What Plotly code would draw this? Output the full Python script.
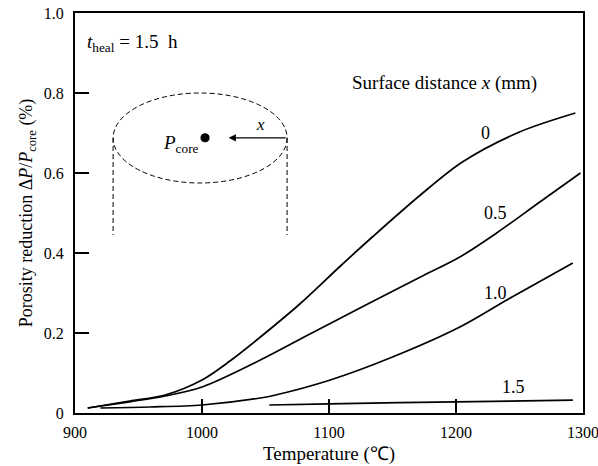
import plotly.graph_objects as go

# Data (temperature in degC, porosity reduction in %)
temp_x0 = [910, 943, 971, 1000, 1022, 1046, 1077, 1109, 1135, 1172, 1205, 1250, 1294]
red_x0 = [0.0125, 0.03, 0.045, 0.0825, 0.13, 0.19, 0.2725, 0.3675, 0.4425, 0.545, 0.6275, 0.7025, 0.75]

temp_x05 = [910, 943, 971, 1000, 1046, 1085, 1124, 1172, 1203, 1232, 1266, 1298]
red_x05 = [0.0125, 0.028, 0.0425, 0.065, 0.1325, 0.1975, 0.262, 0.34, 0.39, 0.45, 0.5275, 0.60]

temp_x10 = [920, 959, 1000, 1046, 1058, 1101, 1150, 1203, 1240, 1292]
red_x10 = [0.0125, 0.015, 0.02, 0.0375, 0.045, 0.0825, 0.14, 0.215, 0.2825, 0.375]

temp_x15 = [1053, 1100, 1200, 1292]
red_x15 = [0.02, 0.023, 0.028, 0.032]

series_labels = ["0", "0.5", "1.0", "1.5"]
x_ticks = [900, 1000, 1100, 1200, 1300]
y_ticks = [0, 0.2, 0.4, 0.6, 0.8, 1.0]
y_ticktext = ["0", "0.2", "0.4", "0.6", "0.8", "1.0"]

FONT = "Liberation Serif"

fig = go.Figure()
for xs, ys, name in [(temp_x0, red_x0, series_labels[0]),
                     (temp_x05, red_x05, series_labels[1]),
                     (temp_x10, red_x10, series_labels[2]),
                     (temp_x15, red_x15, series_labels[3])]:
    fig.add_trace(go.Scatter(x=xs, y=ys, mode="lines", name=name,
                             line=dict(color="black", width=1.7, shape="spline", smoothing=0.9),
                             showlegend=False, hoverinfo="skip"))

# curve labels
label_pos = [(1223, 0.70), (1231, 0.50), (1231, 0.30), (1245, 0.065)]
for (lx, ly), t in zip(label_pos, series_labels):
    fig.add_annotation(x=lx, y=ly, text=t, showarrow=False,
                       font=dict(family=FONT, size=18, color="black"))

fig.add_annotation(x=908, y=0.925, xanchor="left", text="<i>t</i><sub>heal</sub> = 1.5&nbsp;&nbsp;h",
                   showarrow=False, font=dict(family=FONT, size=19, color="black"))
fig.add_annotation(x=1191, y=0.825, text="Surface distance <i>x</i> (mm)", showarrow=False,
                   font=dict(family=FONT, size=19, color="black"))

# schematic of specimen
dash_line = dict(color="black", width=1, dash="5px,3px")
fig.add_shape(type="circle", xref="x", yref="y", x0=930, x1=1067, y0=0.575, y1=0.80, line=dash_line)
fig.add_shape(type="line", xref="x", yref="y", x0=930, x1=930, y0=0.6875, y1=0.445, line=dash_line)
fig.add_shape(type="line", xref="x", yref="y", x0=1067, x1=1067, y0=0.6875, y1=0.445, line=dash_line)
fig.add_shape(type="circle", xref="x", yref="y", x0=999.2, x1=1005.6, y0=0.678, y1=0.698,
              fillcolor="black", line=dict(color="black", width=1))
fig.add_annotation(x=999, y=0.672, xanchor="right", text="<i>P</i><sub>core</sub>", showarrow=False,
                   font=dict(family=FONT, size=19, color="black"))
fig.add_annotation(x=1021, y=0.688, ax=1067, ay=0.688, xref="x", yref="y", axref="x", ayref="y",
                   text="", showarrow=True, arrowhead=2, arrowsize=1.2, arrowwidth=1.2, arrowcolor="black")
fig.add_annotation(x=1046, y=0.722, text="<i>x</i>", showarrow=False,
                   font=dict(family=FONT, size=17, color="black"))

axis_common = dict(showline=True, linecolor="black", linewidth=2, mirror=True,
                   ticks="inside", ticklen=14, tickwidth=1.5, tickcolor="black",
                   showgrid=False, zeroline=False, automargin=False,
                   ticklabeloverflow="allow",
                   tickfont=dict(family=FONT, size=16, color="black"))

fig.update_xaxes(range=[900, 1300], tickvals=x_ticks,
                 title=dict(text="Temperature (℃)", font=dict(family=FONT, size=19, color="black"), standoff=6),
                 ticklabelstandoff=4, **axis_common)
fig.update_yaxes(range=[0, 1.0], tickvals=y_ticks, ticktext=y_ticktext,
                 title=dict(text="Porosity reduction Δ<i>P</i>/<i>P</i><sub>core</sub> (%)",
                            font=dict(family=FONT, size=18, color="black"), standoff=6),
                 ticklabelstandoff=6, **axis_common)

fig.update_layout(width=598, height=466, margin=dict(l=75, r=15, t=13, b=53),
                  plot_bgcolor="white", paper_bgcolor="white",
                  font=dict(family=FONT, color="black"))

# remove the default 8px page margin so the figure fills the window exactly
fig.write_html("out.html", config={"displayModeBar": False},
               post_script="document.body.style.margin='0';document.body.style.overflow='hidden';")
